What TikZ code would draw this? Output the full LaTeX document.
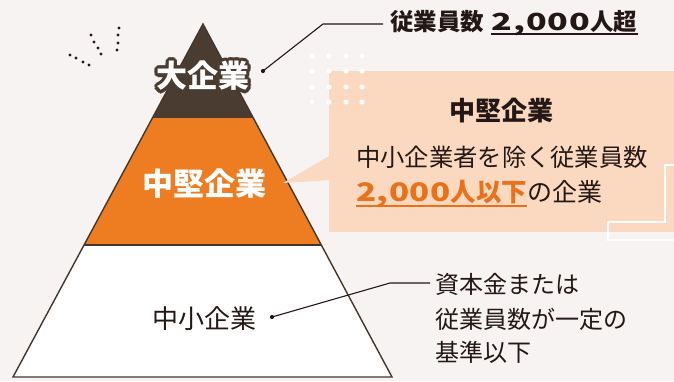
\documentclass[tikz,border=0pt]{standalone}
\usepackage{fontspec}
\setmainfont{Noto Sans CJK JP}
\usetikzlibrary{calc}
\definecolor{bg}{HTML}{F7F3F2}
\definecolor{ink}{HTML}{231815}
\definecolor{topband}{HTML}{4A3C31}
\definecolor{midband}{HTML}{EE7D22}
\definecolor{peach}{HTML}{FAD9C0}
\definecolor{accent}{HTML}{E8711A}
\newcommand\widenum[1]{{\addfontfeature{FakeStretch=1.45,LetterSpace=4}#1}}
\newcommand\widenumb[1]{{\addfontfeature{FakeStretch=1.3,LetterSpace=2}#1}}
\tikzset{
  lbl/.style={inner sep=0pt, text=ink},
  leader/.style={draw=ink, line width=1.1pt},
  leaddot/.style={fill=ink},
  spark/.style={fill=ink},
  wdot/.style={fill=white},
  outline/.style={draw=topband!90!black, line width=1.4pt, line join=miter},
}
\begin{document}
\begin{tikzpicture}[x=1pt,y=-1pt]
\fill[bg] (0,0) rectangle (674,381);
\useasboundingbox (0,0) rectangle (674,381);

% pyramid geometry
\coordinate (apex) at (203,24);
\coordinate (bl) at (13,377);
\coordinate (br) at (392,377);
\coordinate (l1) at ($(apex)!0.2663!(bl)$);
\coordinate (r1) at ($(apex)!0.2663!(br)$);
\coordinate (l2) at ($(apex)!0.6261!(bl)$);
\coordinate (r2) at ($(apex)!0.6261!(br)$);
\fill[topband] (apex) -- (r1) -- (l1) -- cycle;
\fill[midband] (l1) -- (r1) -- (r2) -- (l2) -- cycle;
\fill[white] (l2) -- (r2) -- (br) -- (bl) -- cycle;
\draw[outline] (l2) -- (r2);
\draw[outline] (apex) -- (br) -- (bl) -- cycle;

% callout box
\fill[peach] (329,71) rectangle (674,232);
\coordinate (ptip) at (283,183);
\fill[peach] (ptip) -- (331,155) -- (331,180) -- cycle;
\draw[white, line width=2.6pt] (676,165) -- (665,165) -- (665,222) -- (608,222) -- (608,240) -- (676,240);

% white dot grid
\foreach \x in {312,329,346,362}
  \foreach \y in {56,71,87,102}
    \fill[wdot] (\x,\y) circle (2.6);

% sparks
\foreach \p in {(70,55),(76,58),(83,62),(89,65),(91,35),(94,42),(98,48),(101,54),(119,28),(118,35),(118,43),(117,50)}
  \fill[spark] \p circle (1.6);

% 大企業 with halo
\coordinate (bigc) at (203,76);
\foreach \a in {0,22.5,...,359}
  \node[inner sep=0pt, text=topband, font=\fontsize{31}{31}\selectfont\bfseries] at ($(bigc)+(\a:3.2)$) {大企業};
\node[inner sep=0pt, text=white, font=\fontsize{31}{31}\selectfont\bfseries] (big) at (bigc) {大企業};

% 中堅企業 in pyramid
\node[inner sep=0pt, text=white, font=\fontsize{31}{31}\selectfont\bfseries] (mid) at (204,184) {中堅企業};

% 中小企業
\node[lbl, font=\fontsize{26}{26}\selectfont] (small) at (204,319) {中小企業};

% top leader
\coordinate (dA) at (263,71);
\coordinate (kA) at (323,24);
\coordinate (eA) at (383,24);
\node[lbl, anchor=west, font=\fontsize{23.5}{23.5}\selectfont\bfseries] (topA) at (390,22) {従業員数};
\node[lbl, anchor=base west, font=\fontsize{23.5}{23.5}\selectfont\bfseries] (topB) at ($(topA.base east)+(7,0)$) {\widenum{2,000}人超};
\draw[ink, line width=1.8pt] ($(topB.base west)+(0,3.5)$) -- ($(topB.base east)+(0,3.5)$);
\draw[leader] (dA) -- (kA) -- (eA);
\fill[leaddot] (dA) circle (2.1);

% box texts
\node[lbl, font=\fontsize{26}{26}\selectfont\bfseries] (boxT) at (501,111) {中堅企業};
\node[lbl, anchor=west, font=\fontsize{24.3}{24.3}\selectfont] (boxL2) at (356,157) {中小企業者を除く従業員数};
\node[lbl, anchor=west, text=accent, font=\fontsize{25.5}{25.5}\selectfont\bfseries] (boxL3a) at (356,194) {\widenumb{2,000}人以下};
\node[lbl, anchor=base west, font=\fontsize{25}{25}\selectfont] (boxL3b) at (boxL3a.base east) {の企業};
\draw[accent, line width=1.8pt] ($(boxL3a.base west)+(0,4)$) -- ($(boxL3a.base east)+(0,4)$);

% bottom leader
\coordinate (dB) at (272,317);
\coordinate (kB) at (390,283);
\coordinate (eB) at (430,283);
\draw[leader] (dB) -- (kB) -- (eB);
\fill[leaddot] (dB) circle (2.1);
\node[lbl, anchor=west, font=\fontsize{24}{24}\selectfont] (r1t) at (435,284) {資本金または};
\node[lbl, anchor=west, font=\fontsize{24}{24}\selectfont] (r2t) at (435,319) {従業員数が一定の};
\node[lbl, anchor=west, font=\fontsize{24}{24}\selectfont] (r3t) at (435,352) {基準以下};
\end{tikzpicture}
\end{document}
